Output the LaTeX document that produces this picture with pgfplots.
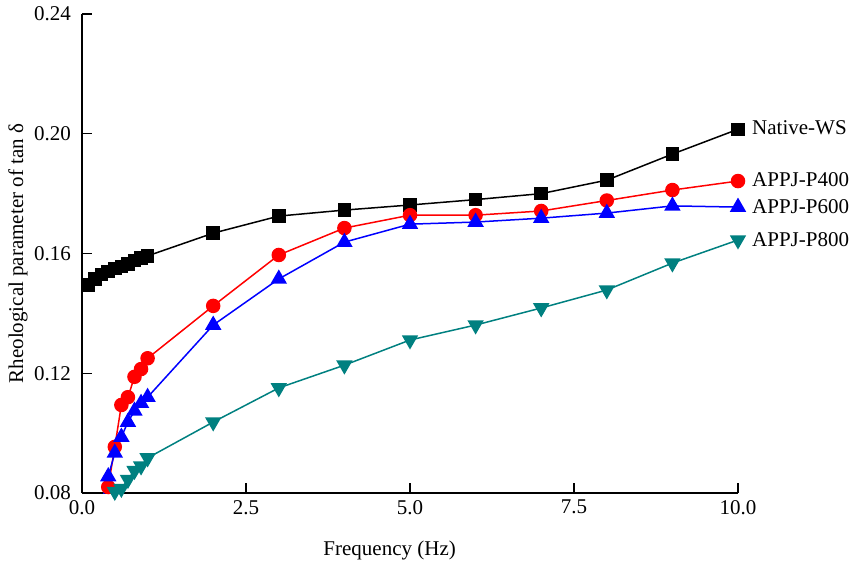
\documentclass[border=0pt]{standalone}
\usepackage{pgfplots}
\pgfplotsset{compat=1.18}
\usepackage{fontspec}
\setmainfont{Liberation Serif}
\definecolor{tealc}{RGB}{0,128,128}
\begin{document}
\fontsize{21}{25}\selectfont
\begin{tikzpicture}
\useasboundingbox (0,0) rectangle (851pt,570pt);
\begin{axis}[
  at={(82pt,77pt)}, anchor=south west,
  scale only axis, width=656pt, height=479pt,
  xmin=0, xmax=10, ymin=0.08, ymax=0.24,
  axis x line=bottom, axis y line=left,
  axis line style={-, line width=1.2pt},
  xtick={0,2.5,5,7.5,10}, ytick={0.08,0.12,0.16,0.20,0.24},
  tick align=inside, major tick length=10pt,
  tick style={line width=1.2pt, black},
  minor tick num=0,
  /pgf/number format/assume math mode=true,
  xticklabel style={/pgf/number format/.cd, fixed, fixed zerofill, precision=1},
  yticklabel style={xshift=-4pt, /pgf/number format/.cd, fixed, fixed zerofill, precision=2},
  ticklabel style={font=\fontsize{21}{25}\selectfont},
  label style={font=\fontsize{21}{25}\selectfont},
  xlabel={Frequency (Hz)},
  ylabel={Rheological parameter of tan δ},
  xlabel style={at={(axis description cs:0.469,-0.119)}, anchor=center},
  ylabel style={at={(axis description cs:-0.0975,0.5)}, anchor=center, rotate=0},
  clip=true,
  every axis plot/.append style={line width=1.5pt},
]
\addplot[black, mark=square*, mark size=6pt, mark options={solid}] coordinates {
(0.1,0.1495) (0.2,0.1515) (0.3,0.153) (0.4,0.154) (0.5,0.155) (0.6,0.1557)
(0.7,0.1565) (0.8,0.1577) (0.9,0.1585) (1.0,0.1592)
(2,0.1668) (3,0.1725) (4,0.1745) (5,0.1762) (6,0.178) (7,0.180)
(8,0.1845) (9,0.1932) (10,0.2015)
};
\addplot[red, mark=*, mark size=6.5pt] coordinates {
(0.3,0.072) (0.4,0.082) (0.5,0.0954) (0.6,0.1094) (0.7,0.112) (0.8,0.1188) (0.9,0.1214) (1.0,0.125)
(2,0.1425) (3,0.1595) (4,0.1685) (5,0.1728) (6,0.1728) (7,0.1742)
(8,0.1777) (9,0.1812) (10,0.1842)
};
\addplot[blue, mark=triangle*, mark size=8pt] coordinates {
(0.3,0.077) (0.4,0.0855) (0.5,0.0934) (0.6,0.0987) (0.7,0.1037) (0.8,0.1074) (0.9,0.110) (1.0,0.112)
(2,0.1361) (3,0.1515) (4,0.1638) (5,0.1698) (6,0.1705) (7,0.1718)
(8,0.1735) (9,0.1759) (10,0.1755)
};
\addplot[tealc, mark=triangle*, mark size=8pt, mark options={rotate=180}] coordinates {
(0.4,0.0785) (0.5,0.0805) (0.6,0.0815) (0.7,0.0845) (0.8,0.0875) (0.9,0.089) (1.0,0.0917)
(2,0.1037) (3,0.1151) (4,0.1227) (5,0.1311) (6,0.1361) (7,0.1418)
(8,0.1478) (9,0.1568) (10,0.1645)
};
\end{axis}
\node[anchor=west] at (745pt,442pt) {Native-WS};
\node[anchor=west] at (745pt,390pt) {APPJ-P400};
\node[anchor=west] at (745pt,363pt) {APPJ-P600};
\node[anchor=west] at (745pt,330pt) {APPJ-P800};
\end{tikzpicture}
\end{document}
